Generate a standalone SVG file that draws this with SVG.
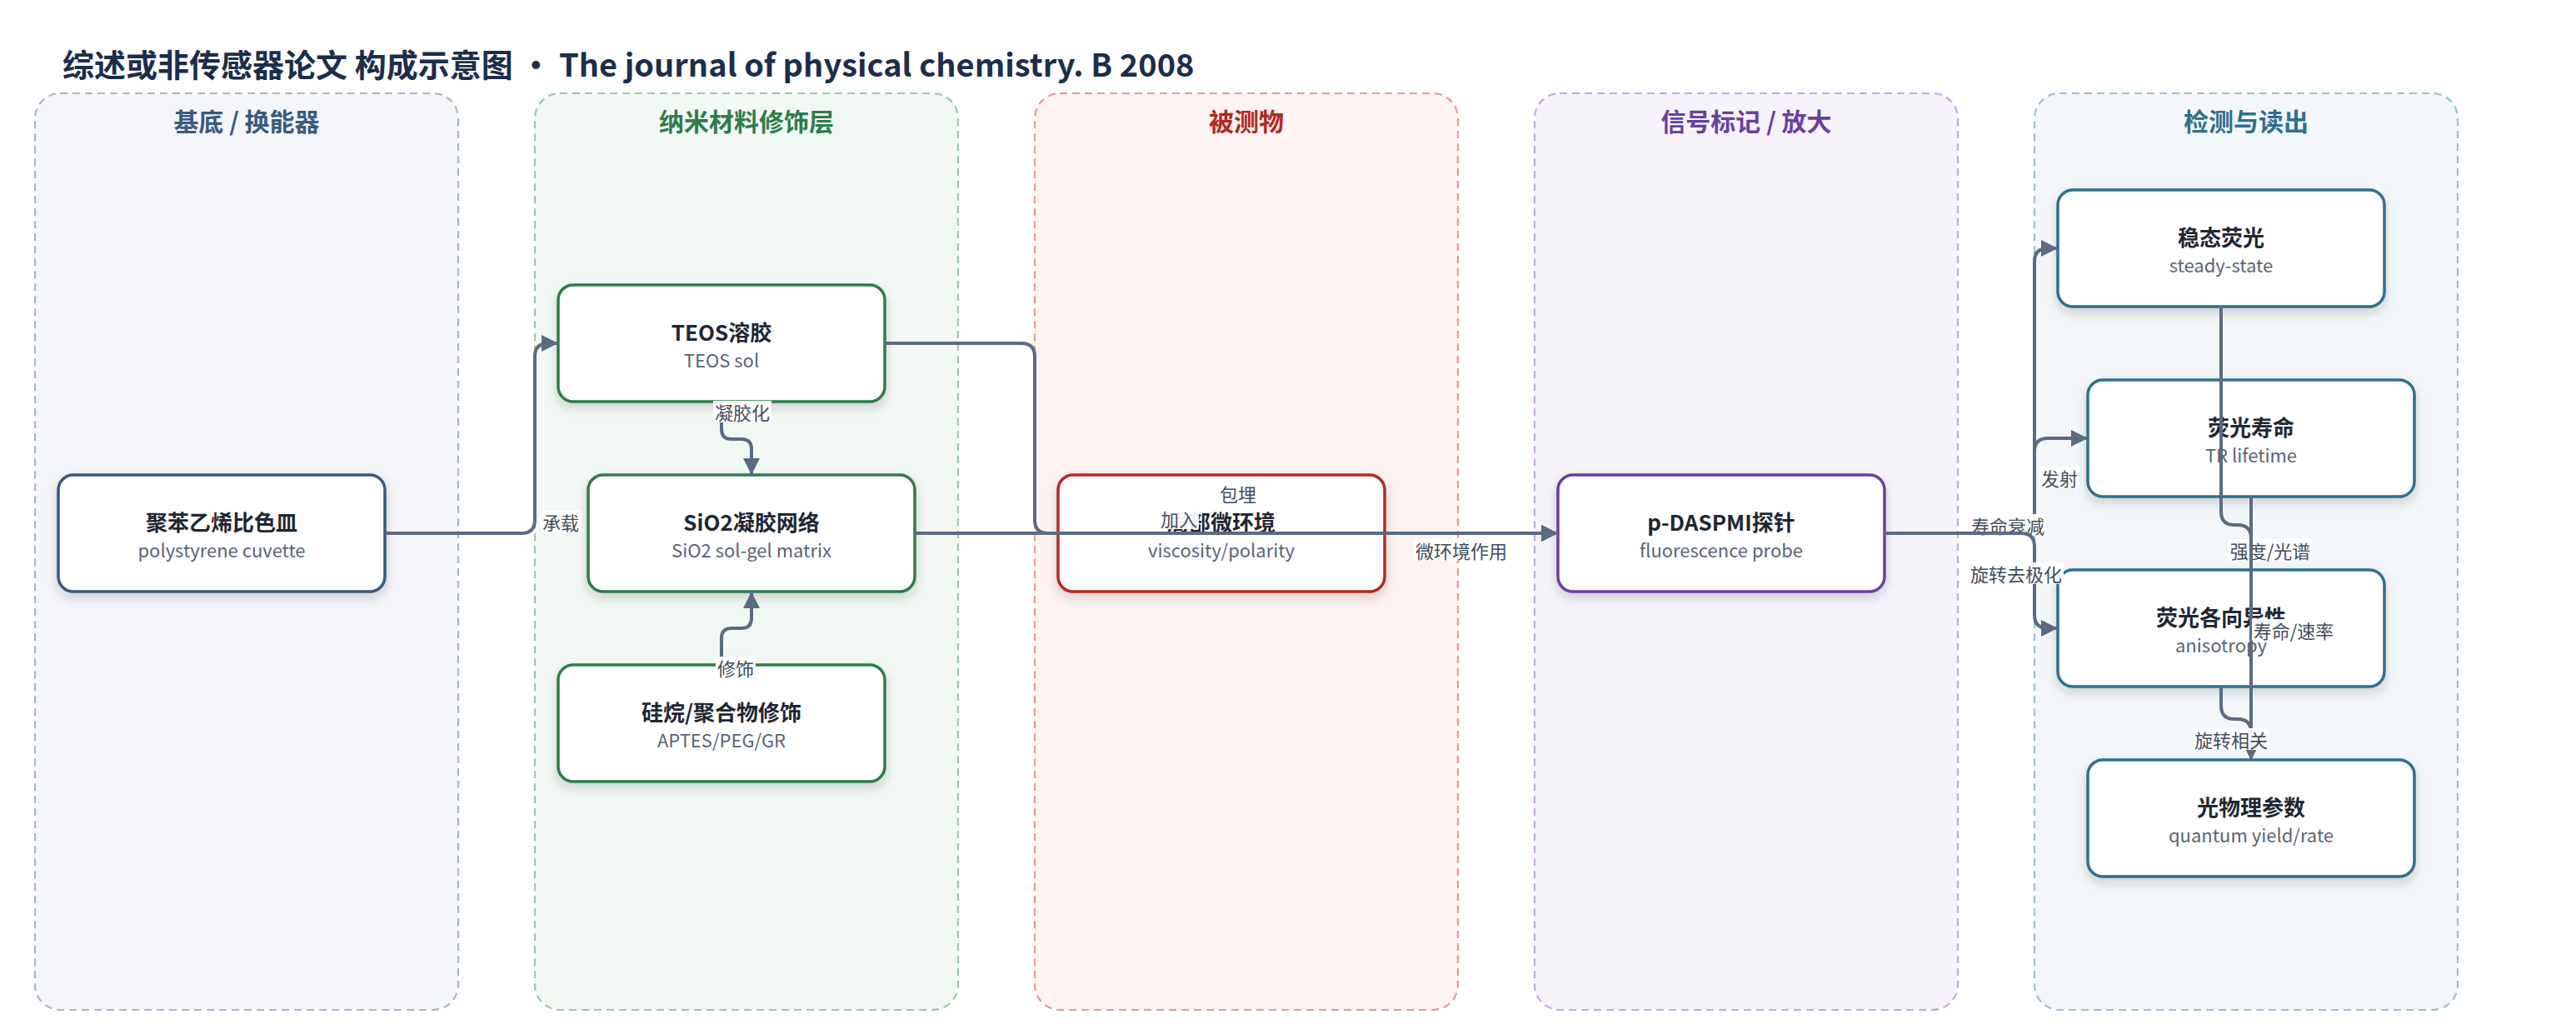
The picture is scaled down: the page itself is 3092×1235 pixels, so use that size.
<svg xmlns="http://www.w3.org/2000/svg" width="3092" height="1235" viewBox="0 0 3092 1235">
<style>
text{font-family:"Noto Sans CJK SC","Noto Sans",sans-serif;}
.hdr{font-size:38px;font-weight:700;fill:#1b2e4b;dominant-baseline:central;}
.lt{font-size:30px;font-weight:700;text-anchor:middle;dominant-baseline:central;}
.lane{stroke-width:2.2;stroke-dasharray:9 6;}
.nb{fill:#fff;stroke-width:3.5;filter:url(#sh);}
.nt{font-size:26px;font-weight:700;fill:#1f2733;text-anchor:middle;dominant-baseline:central;}
.ns{font-size:22px;fill:#5b6573;text-anchor:middle;dominant-baseline:central;}
.e{fill:none;stroke:#5b6b80;stroke-width:4;}
.ea{marker-end:url(#ah);}
.lb{fill:#fff;fill-opacity:0.92;}
.lx{font-size:22px;fill:#434d5b;text-anchor:middle;dominant-baseline:central;}
</style>
<defs>
<filter id="sh" x="-10%" y="-15%" width="120%" height="140%">
<feDropShadow dx="0" dy="6" stdDeviation="6" flood-color="#1a2333" flood-opacity="0.18"/>
</filter>
<marker id="ah" markerUnits="userSpaceOnUse" markerWidth="22" markerHeight="22" refX="20" refY="10" orient="auto" viewBox="0 0 22 22">
<path d="M0,0 L20,10 L0,20 Z" fill="#5b6b80"/>
</marker>
</defs>
<rect width="3092" height="1235" fill="#fff"/>
<text class="hdr" x="75" y="75">综述或非传感器论文 构成示意图 • The journal of physical chemistry. B 2008</text>

<g id="lanes">
<g id="lane-substrate"><rect class="lane" x="42" y="112" width="508" height="1100" rx="30" fill="#f4f6fa" stroke="#a9b6c9"/><text class="lt" x="296" y="144" fill="#3a5a80">基底 / 换能器</text></g>
<g id="lane-nano"><rect class="lane" x="642" y="112" width="508" height="1100" rx="30" fill="#f2f8f4" stroke="#9cc7aa"/><text class="lt" x="896" y="144" fill="#2e7d4a">纳米材料修饰层</text></g>
<g id="lane-analyte"><rect class="lane" x="1242" y="112" width="508" height="1100" rx="30" fill="#fdf3f2" stroke="#e39b95"/><text class="lt" x="1496" y="144" fill="#b0281f">被测物</text></g>
<g id="lane-signal"><rect class="lane" x="1842" y="112" width="508" height="1100" rx="30" fill="#f6f3fb" stroke="#c3a9dd"/><text class="lt" x="2096" y="144" fill="#6a3fa0">信号标记 / 放大</text></g>
<g id="lane-detect"><rect class="lane" x="2442" y="112" width="508" height="1100" rx="30" fill="#f3f7f9" stroke="#9cc0cf"/><text class="lt" x="2696" y="144" fill="#2f6f8f">检测与读出</text></g>
</g>

<g id="n-cuvette"><rect class="nb" x="70" y="570" width="392" height="140" rx="18" stroke="#3b5a80"/><text class="nt" x="266" y="625">聚苯乙烯比色皿</text><text class="ns" x="266" y="659">polystyrene cuvette</text></g>
<g id="n-teos"><rect class="nb" x="670" y="342" width="392" height="140" rx="18" stroke="#2e7d4a"/><text class="nt" x="866" y="397">TEOS溶胶</text><text class="ns" x="866" y="431">TEOS sol</text></g>
<g id="n-sio2"><rect class="nb" x="706" y="570" width="392" height="140" rx="18" stroke="#2e7d4a"/><text class="nt" x="902" y="625">SiO2凝胶网络</text><text class="ns" x="902" y="659">SiO2 sol-gel matrix</text></g>
<g id="n-silane"><rect class="nb" x="670" y="798" width="392" height="140" rx="18" stroke="#2e7d4a"/><text class="nt" x="866" y="853">硅烷/聚合物修饰</text><text class="ns" x="866" y="887">APTES/PEG/GR</text></g>
<g id="n-micro"><rect class="nb" x="1270" y="570" width="392" height="140" rx="18" stroke="#b22a22"/><text class="nt" x="1466" y="625">局部微环境</text><text class="ns" x="1466" y="659">viscosity/polarity</text></g>
<g id="n-probe"><rect class="nb" x="1870" y="570" width="392" height="140" rx="18" stroke="#6b3fa0"/><text class="nt" x="2066" y="625">p-DASPMI探针</text><text class="ns" x="2066" y="659">fluorescence probe</text></g>
<g id="n-steady"><rect class="nb" x="2470" y="228" width="392" height="140" rx="18" stroke="#2f6f8f"/><text class="nt" x="2666" y="283">稳态荧光</text><text class="ns" x="2666" y="317">steady-state</text></g>
<g id="n-lifetime"><rect class="nb" x="2506" y="456" width="392" height="140" rx="18" stroke="#2f6f8f"/><text class="nt" x="2702" y="511">荧光寿命</text><text class="ns" x="2702" y="545">TR lifetime</text></g>
<g id="n-aniso"><rect class="nb" x="2470" y="684" width="392" height="140" rx="18" stroke="#2f6f8f"/><text class="nt" x="2666" y="739">荧光各向异性</text><text class="ns" x="2666" y="773">anisotropy</text></g>
<g id="n-photo"><rect class="nb" x="2506" y="912" width="392" height="140" rx="18" stroke="#2f6f8f"/><text class="nt" x="2702" y="967">光物理参数</text><text class="ns" x="2702" y="1001">quantum yield/rate</text></g>

<g id="connectors">
<g><path class="e ea" d="M462,640 H626 Q642,640 642,624 V428 Q642,412 658,412 H670"/><rect class="lb" x="649" y="613" width="48" height="26"/><text class="lx" x="673" y="626">承载</text></g>
<g><path class="e ea" d="M866,482 V515 Q866,527 878,527 H890 Q902,527 902,539 V570"/><rect class="lb" x="856" y="481" width="70" height="26"/><text class="lx" x="891" y="494">凝胶化</text></g>
<g><path class="e ea" d="M866,798 V766 Q866,754 878,754 H890 Q902,754 902,742 V710"/><rect class="lb" x="859" y="788" width="48" height="26"/><text class="lx" x="883" y="801">修饰</text></g>
<g><path class="e ea" d="M1062,412 H1226 Q1242,412 1242,428 V624 Q1242,640 1258,640 H1870"/><rect class="lb" x="1391" y="609" width="48" height="26"/><text class="lx" x="1415" y="622">加入</text></g>
<g><path class="e ea" d="M1098,640 H1870"/><rect class="lb" x="1462" y="579" width="48" height="26"/><text class="lx" x="1486" y="592">包埋</text></g>
<g><path class="e ea" d="M1662,640 H1870"/><rect class="lb" x="1697" y="647" width="114" height="26"/><text class="lx" x="1754" y="660">微环境作用</text></g>
<g><path class="e ea" d="M2262,640 H2426 Q2442,640 2442,624 V314 Q2442,298 2458,298 H2470"/><rect class="lb" x="2448" y="560" width="48" height="26"/><text class="lx" x="2472" y="573">发射</text></g>
<g><path class="e ea" d="M2262,640 H2426 Q2442,640 2442,624 V542 Q2442,526 2458,526 H2506"/><rect class="lb" x="2364" y="617" width="92" height="26"/><text class="lx" x="2410" y="630">寿命衰减</text></g>
<g><path class="e ea" d="M2262,640 H2426 Q2442,640 2442,656 V738 Q2442,754 2458,754 H2470"/><rect class="lb" x="2363" y="675" width="114" height="26"/><text class="lx" x="2420" y="688">旋转去极化</text></g>
<g><path class="e ea" d="M2666,368 V614 Q2666,630 2682,630 H2686 Q2702,630 2702,646 V912"/><rect class="lb" x="2675" y="647" width="100" height="26"/><text class="lx" x="2725" y="660">强度/光谱</text></g>
<g><path class="e ea" d="M2702,596 V912"/><rect class="lb" x="2703" y="743" width="100" height="26"/><text class="lx" x="2753" y="756">寿命/速率</text></g>
<g><path class="e ea" d="M2666,824 V847 Q2666,863 2682,863 H2686 Q2702,863 2702,879 V912"/><rect class="lb" x="2632" y="874" width="92" height="26"/><text class="lx" x="2678" y="887">旋转相关</text></g>
</g>
</svg>
